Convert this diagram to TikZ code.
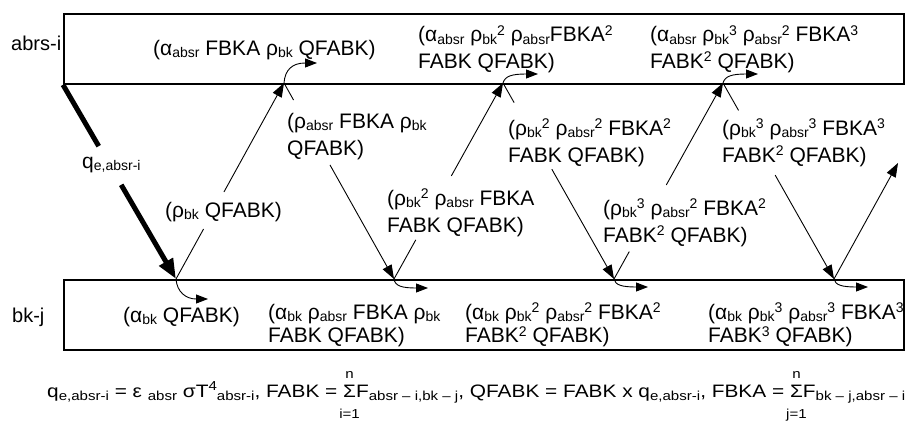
\documentclass[tikz,border=0pt]{standalone}
\usepackage{fontspec}
\setmainfont{Liberation Sans}
\usetikzlibrary{arrows.meta,calc}
\newcommand\dn[1]{\raisebox{-2.6pt}{\fontsize{14}{14}\selectfont #1}}
\newcommand\up[1]{\raisebox{6.3pt}{\fontsize{14}{14}\selectfont #1}}
\newcommand\fdn[1]{\raisebox{-3pt}{\fontsize{13}{13}\selectfont #1}}
\newcommand\fup[1]{\raisebox{6.5pt}{\fontsize{13}{13}\selectfont #1}}
\newsavebox\sigbox
\newcommand\sm[2]{\sbox\sigbox{Σ}\hbox to \wd\sigbox{\hss\smash{\raisebox{19pt}{\fontsize{13}{13}\selectfont #1}}\hss}\kern-\wd\sigbox\hbox to \wd\sigbox{\hss\smash{\raisebox{-21pt}{\fontsize{13}{13}\selectfont #2}}\hss}\kern-\wd\sigbox\usebox\sigbox}
\newcommand\lns[1]{\begin{tabular}[t]{@{}l@{}}#1\end{tabular}}
\begin{document}
\begin{tikzpicture}[x=1pt,y=-1pt,
  lbl/.style={anchor=base west,inner sep=0pt,font=\fontsize{21}{27}\selectfont},
  side/.style={lbl,font=\fontsize{20}{24}\selectfont},
  boxl/.style={lbl,font=\fontsize{21}{26.5}\selectfont},
  boxb/.style={lbl,font=\fontsize{21}{23.5}\selectfont},
  panel/.style={draw,line width=1.8pt,anchor=north west,inner sep=0pt,minimum width=840pt,minimum height=70pt},
  ray/.style={line width=0.9pt},
  tip/.style={-{Triangle[length=14pt,width=10pt]}},
  ctip/.style={line width=0.9pt,-{Triangle[length=12pt,width=9pt]}},
  heavy/.style={line width=5pt},
]
\useasboundingbox (0,0) rectangle (909,423);
% panels
\node[panel] (ab) at (63,13) {};
\node[panel] (bk) at (63,279) {};
\node[side] (na) at (11,50) {abrs-i};
\node[side] (nb) at (12,322) {bk-j};
% bounce points
\coordinate (b1) at (176,279);
\coordinate (t1) at (284,83);
\coordinate (b2) at (394,279);
\coordinate (t2) at (503,83);
\coordinate (b3) at (614,279);
\coordinate (t3) at (723,83);
\coordinate (b4) at (834,279);
\coordinate (e) at (898,163);
% heavy incoming ray
\draw[heavy] (ab.south west) -- ($(ab.south west)!0.316!(b1)$);
\draw[heavy,-{Triangle[length=20pt,width=15pt]}] ($(ab.south west)!0.515!(b1)$) -- (b1);
% zigzag rays
\draw[ray] (b1) -- ($(b1)!0.255!(t1)$);
\draw[ray,tip] ($(b1)!0.444!(t1)$) -- (t1);
\draw[ray] (t1) -- ($(t1)!0.087!(b2)$);
\draw[ray,tip] ($(t1)!0.418!(b2)$) -- (b2);
\draw[ray] (b2) -- ($(b2)!0.2!(t2)$);
\draw[ray,tip] ($(b2)!0.526!(t2)$) -- (t2);
\draw[ray] (t2) -- ($(t2)!0.1!(b3)$);
\draw[ray,tip] ($(t2)!0.44!(b3)$) -- (b3);
\draw[ray] (b3) -- ($(b3)!0.14!(t3)$);
\draw[ray,tip] ($(b3)!0.48!(t3)$) -- (t3);
\draw[ray] (t3) -- ($(t3)!0.14!(b4)$);
\draw[ray,tip] ($(t3)!0.47!(b4)$) -- (b4);
\draw[ray,tip] (b4) -- (e);
% absorbed curls
\draw[ctip] (t1) .. controls (285,70) and (292,63) .. (317,63);
\draw[ctip] (t2) .. controls (505,76) and (512,74) .. (538,74);
\draw[ctip] (t3) .. controls (725,76) and (732,74) .. (758,74);
\draw[ctip] (b1) .. controls (177,292) and (186,299) .. (208,299);
\draw[ctip] (b2) .. controls (395,286) and (402,288) .. (428,288);
\draw[ctip] (b3) .. controls (615,285) and (622,287) .. (648,287);
\draw[ctip] (b4) .. controls (835,285) and (842,287) .. (868,287);
% top panel labels
\node[boxl] (l1) at (153,55) {(α\dn{absr} FBKA ρ\dn{bk} QFABK)};
\node[boxl] (l2) at (418,41.5) {\lns{(α\dn{absr} ρ\dn{bk}\up{2} ρ\dn{absr}FBKA\up{2}\\FABK QFABK)}};
\node[boxl] (l3) at (650,41.5) {\lns{(α\dn{absr} ρ\dn{bk}\up{3} ρ\dn{absr}\up{2} FBKA\up{3}\\FABK\up{2} QFABK)}};
% middle labels
\node[lbl] (m0) at (82,168) {q\dn{e,absr-i}};
\node[lbl] (m1) at (165,217) {(ρ\dn{bk} QFABK)};
\node[lbl] (m2) at (287,128) {\lns{(ρ\dn{absr} FBKA ρ\dn{bk}\\QFABK)}};
\node[lbl] (m3) at (387,205) {\lns{(ρ\dn{bk}\up{2} ρ\dn{absr} FBKA\\FABK QFABK)}};
\node[lbl] (m4) at (508,135) {\lns{(ρ\dn{bk}\up{2} ρ\dn{absr}\up{2} FBKA\up{2}\\FABK QFABK)}};
\node[lbl] (m5) at (603,215) {\lns{(ρ\dn{bk}\up{3} ρ\dn{absr}\up{2} FBKA\up{2}\\FABK\up{2} QFABK)}};
\node[lbl] (m6) at (722,135) {\lns{(ρ\dn{bk}\up{3} ρ\dn{absr}\up{3} FBKA\up{3}\\FABK\up{2} QFABK)}};
% bottom panel labels
\node[boxb] (n1) at (123,322) {(α\dn{bk} QFABK)};
\node[boxb] (n2) at (268,319) {\lns{(α\dn{bk} ρ\dn{absr} FBKA ρ\dn{bk}\\FABK QFABK)}};
\node[boxb] (n3) at (465,319) {\lns{(α\dn{bk} ρ\dn{bk}\up{2} ρ\dn{absr}\up{2} FBKA\up{2}\\FABK\up{2} QFABK)}};
\node[boxb] (n4) at (708,319) {\lns{(α\dn{bk} ρ\dn{bk}\up{3} ρ\dn{absr}\up{3} FBKA\up{3}\\FABK\up{3} QFABK)}};
% formula
\node[anchor=base west,inner sep=0pt,font=\fontsize{18}{18}\selectfont] (eq) at (47,397) {\resizebox{858pt}{\height}{q\fdn{e,absr-i} = ε \fdn{absr} σT\fup{4}\fdn{absr-i}, FABK = \sm{n}{i=1}F\fdn{absr – i,bk – j}, QFABK = FABK x q\fdn{e,absr-i}, FBKA = \sm{n}{j=1}F\fdn{bk – j,absr – i}}};
\end{tikzpicture}
\end{document}
